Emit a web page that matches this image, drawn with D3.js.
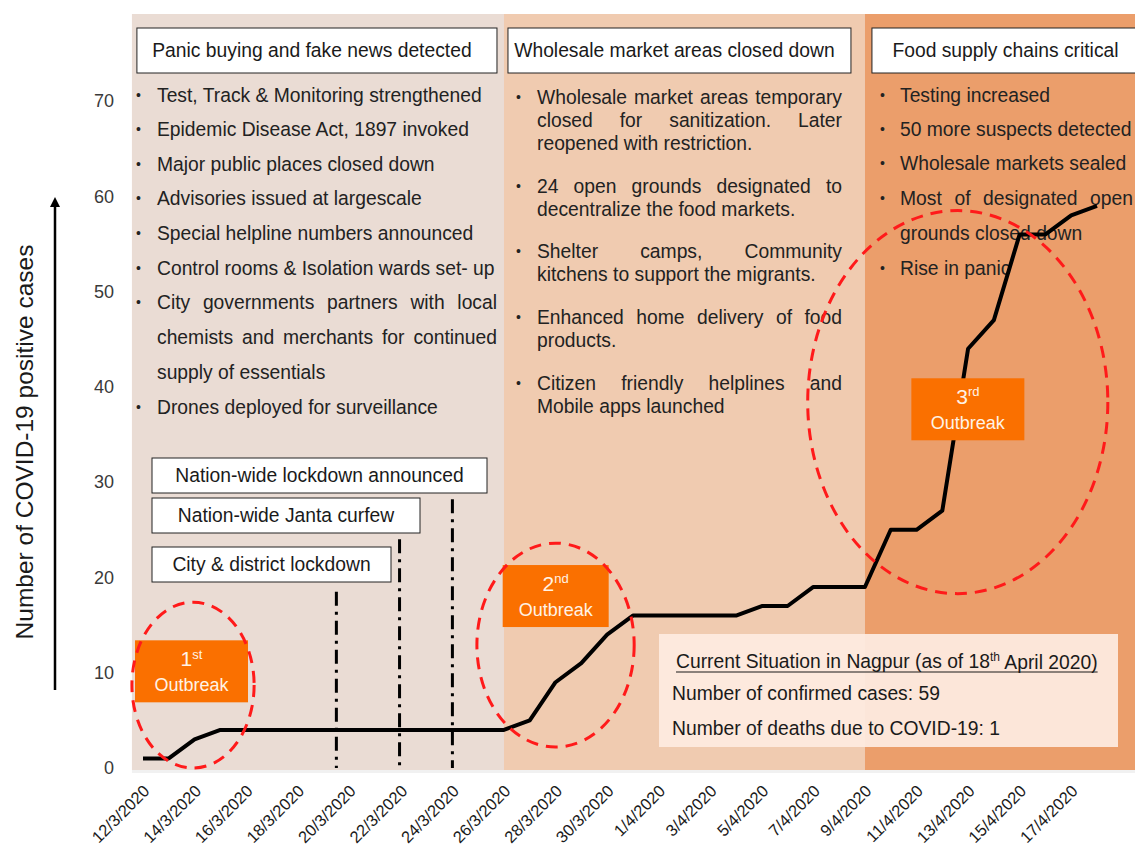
<!DOCTYPE html>
<html>
<head>
<meta charset="utf-8">
<script src="https://cdn.jsdelivr.net/npm/d3@7"></script>
<style>
  body { margin: 0; background: #fff; }
  text { font-family: "Liberation Sans", Arial, sans-serif; }
</style>
</head>
<body>
<div id="graph"></div>
<script>
// page size
var width = 1135;
var height = 850;

// dates (categories) and cumulative positive cases
var dates = ["12/3/2020", "13/3/2020", "14/3/2020", "15/3/2020", "16/3/2020", "17/3/2020",
  "18/3/2020", "19/3/2020", "20/3/2020", "21/3/2020", "22/3/2020", "23/3/2020", "24/3/2020",
  "25/3/2020", "26/3/2020", "27/3/2020", "28/3/2020", "29/3/2020", "30/3/2020", "31/3/2020",
  "1/4/2020", "2/4/2020", "3/4/2020", "4/4/2020", "5/4/2020", "6/4/2020", "7/4/2020",
  "8/4/2020", "9/4/2020", "10/4/2020", "11/4/2020", "12/4/2020", "13/4/2020", "14/4/2020",
  "15/4/2020", "16/4/2020", "17/4/2020", "18/4/2020"];
var cases = [1, 1, 3, 4, 4, 4, 4, 4, 4, 4, 4, 4, 4, 4, 4, 5, 9, 11, 14, 16,
  16, 16, 16, 16, 17, 17, 19, 19, 19, 25, 25, 27, 44, 47, 56, 56, 58, 59];
var yTicks = [0, 10, 20, 30, 40, 50, 60, 70];

// phases (index ranges on the category axis)
var phaseTitles = ["Panic buying and fake news detected", "Wholesale market areas closed down", "Food supply chains critical"];
var phaseStart = [-0.43, 14, 28];
var phaseEnd = [14, 28, 38.5];
var phaseColors = ["#eadcd4", "#f0cbb0", "#eb9e6b"];

// bullet texts of each phase: [text, bullet?, justified?]
var phase1Lines = [
  ["Test, Track & Monitoring strengthened", 1, 0],
  ["Epidemic Disease Act, 1897 invoked", 1, 0],
  ["Major public places closed down", 1, 0],
  ["Advisories issued at largescale", 1, 0],
  ["Special helpline numbers announced", 1, 0],
  ["Control rooms & Isolation wards set- up", 1, 0],
  ["City governments partners with local", 1, 1],
  ["chemists and merchants for continued", 0, 1],
  ["supply of essentials", 0, 0],
  ["Drones deployed for surveillance", 1, 0]
];
var phase1Y = [95, 129, 164, 198, 233, 268, 302, 337, 372, 407];

var phase2Lines = [
  ["Wholesale market areas temporary", 1, 1],
  ["closed for sanitization. Later", 0, 1],
  ["reopened with restriction.", 0, 0],
  ["24 open grounds designated to", 1, 1],
  ["decentralize the food markets.", 0, 0],
  ["Shelter camps, Community", 1, 1],
  ["kitchens to support the migrants.", 0, 0],
  ["Enhanced home delivery of food", 1, 1],
  ["products.", 0, 0],
  ["Citizen friendly helplines and", 1, 1],
  ["Mobile apps launched", 0, 0]
];
var phase2Y = [97, 120, 143, 186, 209, 251, 274, 317, 340, 383, 406];

var phase3Lines = [
  ["Testing increased", 1, 0],
  ["50 more suspects detected", 1, 0],
  ["Wholesale markets sealed", 1, 0],
  ["Most of designated open", 1, 1],
  ["grounds closed down", 0, 0],
  ["Rise in panic", 1, 0]
];
var phase3Y = [95, 129, 163, 198, 233, 268];

// lockdown events: label, category index of the dash-dot line, top value of line
var eventLabels = ["Nation-wide lockdown announced", "Nation-wide Janta curfew", "City & district lockdown"];
var eventIndex = [12, 9.95, 7.5];
var eventTop = [28.2, 24, 18.5];

// outbreak circles: centre (index, value) and radii
var outbreakNum = ["1", "2", "3"];
var outbreakSup = ["st", "nd", "rd"];
var ellCx = [1.94, 16.0, 31.6];
var ellCy = [8.7, 12.9, 38.4];
var ellRx = [2.37, 3.05, 5.82];
var ellRy = [8.7, 10.7, 20.1];
var boxIdx = [-0.31, 13.95, 29.8];
var boxVal = [13.4, 21.3, 40.9];

var fs = 19.3;

var svg = d3.select("#graph")
  .append("svg")
  .attr("width", width)
  .attr("height", height);

var xScale = d3.scaleLinear()
  .domain([0, dates.length - 1])
  .range([143, 1097]);

var yScale = d3.scaleLinear()
  .domain([0, 70])
  .range([768, 101]);

var plotTop = 14, plotBottom = 770;

// phase backgrounds
svg.selectAll("rect.phase")
  .data(phaseColors)
  .enter().append("rect")
  .attr("class", "phase")
  .attr("x", function(d, i) { return xScale(phaseStart[i]); })
  .attr("y", plotTop)
  .attr("width", function(d, i) { return xScale(phaseEnd[i]) - xScale(phaseStart[i]); })
  .attr("height", plotBottom - plotTop)
  .attr("fill", function(d) { return d; });

// soft shadow under the plot
svg.append("rect")
  .attr("x", xScale(phaseStart[0])).attr("y", plotBottom)
  .attr("width", width).attr("height", 3)
  .attr("fill", "#f1f1f1");

// phase title boxes
var titleX0 = [xScale(phaseStart[0]) + 5, xScale(phaseStart[1]) + 4, xScale(phaseStart[2]) + 7];
var titleX1 = [xScale(phaseEnd[0]) - 7, xScale(phaseEnd[1]) - 14, width + 5];
phaseTitles.forEach(function(t, i) {
  svg.append("rect")
    .attr("x", titleX0[i]).attr("y", 28)
    .attr("width", titleX1[i] - titleX0[i]).attr("height", 45)
    .attr("fill", "#fff").attr("stroke", "#222").attr("stroke-width", 1);
  svg.append("text")
    .attr("x", (titleX0[i] + Math.min(titleX1[i], width)) / 2 + (i == 2 ? 2 : -5))
    .attr("y", 50).attr("dy", "0.35em")
    .attr("text-anchor", "middle")
    .attr("font-size", fs).attr("fill", "#1a1a1a")
    .text(t);
});

// write one line, optionally justified to width w
function writeLine(g, str, x, y, w, justify) {
  if (!justify) {
    g.append("text").attr("x", x).attr("y", y).attr("dy", "0.35em").text(str);
    return;
  }
  var words = str.split(" ");
  var widths = words.map(function(wd) {
    var t = g.append("text").text(wd);
    var l = t.node().getComputedTextLength();
    t.remove();
    return l;
  });
  var gap = (w - d3.sum(widths)) / (words.length - 1);
  var cx = x;
  words.forEach(function(wd, i) {
    g.append("text").attr("x", cx).attr("y", y).attr("dy", "0.35em").text(wd);
    cx += widths[i] + gap;
  });
}

function bulletList(lines, ys, bx, tx, w) {
  var g = svg.append("g").attr("font-size", fs).attr("fill", "#222");
  lines.forEach(function(l, i) {
    if (l[1]) {
      g.append("text").attr("x", bx).attr("y", ys[i]).attr("dy", "0.35em")
        .attr("font-size", 14).text("\u2022");
    }
    writeLine(g, l[0], tx, ys[i], w, l[2]);
  });
}
bulletList(phase1Lines, phase1Y, 136, 157, 340);
bulletList(phase2Lines, phase2Y, 516, 537, 305);
bulletList(phase3Lines, phase3Y, 880, 900, 233);

// lockdown event boxes
var evX0 = [152, 152, 152];
var evX1 = [487, 420, 391];
var evY = [458, 498, 547];
eventLabels.forEach(function(t, i) {
  svg.append("rect")
    .attr("x", evX0[i]).attr("y", evY[i])
    .attr("width", evX1[i] - evX0[i]).attr("height", 35)
    .attr("fill", "#fff").attr("stroke", "#222").attr("stroke-width", 1);
  svg.append("text")
    .attr("x", (evX0[i] + evX1[i]) / 2).attr("y", evY[i] + 17).attr("dy", "0.35em")
    .attr("text-anchor", "middle").attr("font-size", fs).attr("fill", "#1a1a1a")
    .text(t);
});

// dash-dot event lines
svg.selectAll("line.event")
  .data(eventIndex)
  .enter().append("line")
  .attr("class", "event")
  .attr("x1", function(d) { return xScale(d); })
  .attr("x2", function(d) { return xScale(d); })
  .attr("y1", function(d, i) { return yScale(eventTop[i]); })
  .attr("y2", yScale(0))
  .attr("stroke", "#000")
  .attr("stroke-width", 3)
  .attr("stroke-dasharray", "14 6 3 6");

// current situation box
var info = svg.append("g").attr("font-size", fs).attr("fill", "#1a1a1a");
info.append("rect")
  .attr("x", 659).attr("y", 634).attr("width", 459).attr("height", 113)
  .attr("fill", "#fdeadf").attr("opacity", 0.95);
var infoTitle = info.append("text")
  .attr("x", 676).attr("y", 661).attr("dy", "0.35em");
infoTitle.append("tspan").text("Current  Situation in Nagpur (as of 18");
infoTitle.append("tspan").attr("font-size", 12).attr("dy", "-0.6em").text("th");
infoTitle.append("tspan").attr("dy", "0.45em").text(" April 2020)");
var titleLen = infoTitle.node().getComputedTextLength();
info.append("line")
  .attr("x1", 676).attr("x2", 676 + titleLen)
  .attr("y1", 672).attr("y2", 672)
  .attr("stroke", "#1a1a1a").attr("stroke-width", 1.2);
info.append("text").attr("x", 672).attr("y", 693).attr("dy", "0.35em")
  .text("Number  of confirmed cases: " + cases[cases.length - 1]);
info.append("text").attr("x", 672).attr("y", 728).attr("dy", "0.35em")
  .text("Number  of deaths due to COVID-19: 1");

// cases line
var line = d3.line()
  .x(function(d, i) { return xScale(i); })
  .y(function(d) { return yScale(d); });

svg.append("path")
  .datum(cases)
  .attr("fill", "none")
  .attr("stroke", "#000")
  .attr("stroke-width", 4)
  .attr("stroke-linejoin", "round")
  .attr("d", line);

// outbreak boxes
var boxW = 113, boxH = 62;
outbreakNum.forEach(function(n, i) {
  var bx = xScale(boxIdx[i]), by = yScale(boxVal[i]);
  var w = i == 1 ? 106 : boxW;
  svg.append("rect")
    .attr("x", bx).attr("y", by).attr("width", w).attr("height", boxH)
    .attr("fill", "#fa7000");
  var t = svg.append("text")
    .attr("x", bx + w / 2).attr("y", by + 26)
    .attr("text-anchor", "middle").attr("fill", "#fff3e6")
    .attr("font-size", 21);
  t.append("tspan").text(n);
  t.append("tspan").attr("font-size", 13).attr("dy", "-0.6em").text(outbreakSup[i]);
  svg.append("text")
    .attr("x", bx + w / 2).attr("y", by + 51)
    .attr("text-anchor", "middle").attr("fill", "#fff3e6")
    .attr("font-size", 18)
    .text("Outbreak");
});

// red dashed outbreak ellipses
svg.selectAll("ellipse.outbreak")
  .data(ellCx)
  .enter().append("ellipse")
  .attr("class", "outbreak")
  .attr("cx", function(d) { return xScale(d); })
  .attr("cy", function(d, i) { return yScale(ellCy[i]); })
  .attr("rx", function(d, i) { return xScale(ellRx[i]) - xScale(0); })
  .attr("ry", function(d, i) { return yScale(0) - yScale(ellRy[i]); })
  .attr("fill", "none")
  .attr("stroke", "#ff1a1a")
  .attr("stroke-width", 3)
  .attr("stroke-dasharray", "12 8");

// y axis
var yAxis = svg.append("g")
  .attr("transform", "translate(114,0)")
  .call(d3.axisLeft(yScale).tickValues(yTicks).tickSize(0).tickPadding(0));
yAxis.select(".domain").remove();
yAxis.selectAll("text")
  .attr("font-size", 18).attr("fill", "#3a3a3a")
  .style("font-family", "'Liberation Sans', Arial, sans-serif");

// x axis, every second date
var xAxis = svg.append("g")
  .attr("transform", "translate(0," + plotBottom + ")")
  .call(d3.axisBottom(xScale)
    .tickValues(d3.range(0, dates.length - 1, 2))
    .tickFormat(function(d) { return dates[d]; })
    .tickSize(0));
xAxis.select(".domain").remove();
xAxis.selectAll("text")
  .attr("x", 0).attr("y", 0).attr("dy", "0.35em")
  .attr("text-anchor", "end")
  .attr("transform", "translate(3,18) rotate(-45)")
  .attr("font-size", 16.5).attr("fill", "#1a1a1a")
  .style("font-family", "'Liberation Sans', Arial, sans-serif");

// y axis title and arrow
svg.append("defs").append("marker")
  .attr("id", "arrow")
  .attr("viewBox", "0 0 10 10")
  .attr("refX", 5).attr("refY", 5)
  .attr("markerWidth", 4).attr("markerHeight", 4)
  .attr("orient", "auto")
  .append("path").attr("d", "M0,0 L10,5 L0,10 z").attr("fill", "#000");

svg.append("line")
  .attr("x1", 55).attr("x2", 55)
  .attr("y1", 690).attr("y2", 202)
  .attr("stroke", "#000").attr("stroke-width", 2.5)
  .attr("marker-end", "url(#arrow)");

svg.append("text")
  .attr("transform", "translate(24,442) rotate(-90)")
  .attr("text-anchor", "middle").attr("dy", "0.35em")
  .attr("font-size", 24.5).attr("fill", "#1a1a1a")
  .text("Number  of COVID-19 positive cases");
</script>
</body>
</html>
